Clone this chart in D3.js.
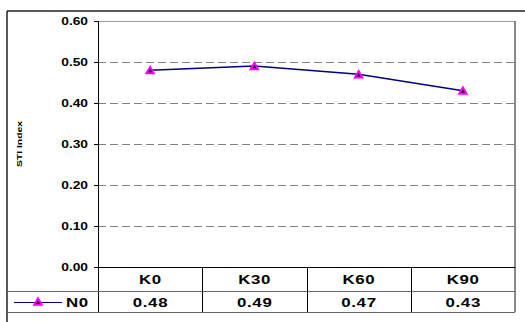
<!DOCTYPE html>
<html><head><meta charset="utf-8">
<script src="https://cdn.jsdelivr.net/npm/d3@7"></script>
<style>html,body{margin:0;padding:0;background:#fff;overflow:hidden}</style>
</head><body>
<svg id="c" width="525" height="322"></svg>
<script>
const categories = ["K0","K30","K60","K90"];
const seriesName = "N0";
const values = [0.48, 0.49, 0.47, 0.43];
const yTicks = [0.0,0.1,0.2,0.3,0.4,0.5,0.6];
const yTitle = "STI Index";

const svg = d3.select("#c");
const L = 98, R = 515, T = 21, B = 267, row1 = 291, row2 = 312, frameL = 7, frameT = 11;
const font = "'Liberation Sans', Arial, sans-serif";

// outer frame
svg.append("line").attr("x1",frameL).attr("x2",frameL).attr("y1",frameT).attr("y2",330).attr("stroke","#222").attr("stroke-width",1.5);
svg.append("line").attr("x1",frameL).attr("x2",530).attr("y1",frameT).attr("y2",frameT).attr("stroke","#222").attr("stroke-width",1.5);

const x = d3.scaleBand().domain(categories).range([L,R]).padding(0);
const y = d3.scaleLinear().domain([0,0.6]).range([B,T]);

// gridlines
svg.append("g").selectAll("line").data(yTicks.filter(t=>t>0 && t<0.6)).join("line")
  .attr("x1",L).attr("x2",R).attr("y1",d=>Math.round(y(d))+0.5).attr("y2",d=>Math.round(y(d))+0.5)
  .attr("stroke","#808080").attr("stroke-width",1.2).attr("stroke-dasharray","8,4");

// plot top border & right border
svg.append("line").attr("x1",L).attr("x2",R).attr("y1",T+0.5).attr("y2",T+0.5).attr("stroke","#999").attr("stroke-width",1);
svg.append("line").attr("x1",R).attr("x2",R).attr("y1",T).attr("y2",row2).attr("stroke","#888").attr("stroke-width",2);

// y axis (ticks via axis, labels stretched)
const yAxis = d3.axisLeft(y).tickValues(yTicks).tickFormat("").tickSize(4);
const gy = svg.append("g").attr("transform",`translate(${L},0)`).call(yAxis);
gy.select(".domain").remove();
gy.selectAll(".tick line").attr("stroke","#000");
gy.selectAll(".tick").append("text")
  .attr("transform","translate(-10,0) scale(1.25,1)")
  .attr("text-anchor","end").attr("dy","0.36em")
  .attr("font-family",font).attr("font-weight","bold").attr("font-size",11).attr("fill","#000")
  .text(d=>d3.format(".2f")(d));
svg.append("line").attr("x1",L+0.5).attr("x2",L+0.5).attr("y1",T).attr("y2",row2).attr("stroke","#000").attr("stroke-width",1);

// y title
svg.append("text").attr("transform",`translate(22,${(T+B)/2}) rotate(-90) scale(1.3,1)`).attr("text-anchor","middle")
  .attr("font-family",font).attr("font-weight","bold").attr("font-size",8).attr("fill","#000").text(yTitle);

// table
svg.append("line").attr("x1",L).attr("x2",R).attr("y1",B+0.5).attr("y2",B+0.5).attr("stroke","#000").attr("stroke-width",1.2);
svg.append("line").attr("x1",frameL).attr("x2",R).attr("y1",row1+0.5).attr("y2",row1+0.5).attr("stroke","#666").attr("stroke-width",1);
svg.append("line").attr("x1",frameL).attr("x2",R).attr("y1",row2+0.5).attr("y2",row2+0.5).attr("stroke","#666").attr("stroke-width",1);
svg.append("g").selectAll("line").data(categories.slice(1)).join("line")
  .attr("x1",d=>Math.round(x(d))+0.5).attr("x2",d=>Math.round(x(d))+0.5).attr("y1",B).attr("y2",row2)
  .attr("stroke","#000").attr("stroke-width",1);

const sx = 1.3, ls = 0.5;
svg.append("g").selectAll("text").data(categories).join("text")
  .attr("transform",d=>`translate(${x(d)+x.bandwidth()/2 + ls*sx/2},${(B+row1)/2+5}) scale(${sx},1)`).attr("text-anchor","middle")
  .attr("font-family",font).attr("font-weight","bold").attr("font-size",13).attr("letter-spacing",ls).attr("fill","#000").text(d=>d);
svg.append("g").selectAll("text").data(values).join("text")
  .attr("transform",(d,i)=>`translate(${x(categories[i])+x.bandwidth()/2 + ls*sx/2},${(row1+row2)/2+5}) scale(${sx},1)`).attr("text-anchor","middle")
  .attr("font-family",font).attr("font-weight","bold").attr("font-size",13).attr("letter-spacing",ls).attr("fill","#000").text(d=>d.toFixed(2));

const tri = d3.symbol().type(d3.symbolTriangle).size(24);

// legend
const ly = (row1+row2)/2 + 1;
svg.append("line").attr("x1",14).attr("x2",62).attr("y1",ly).attr("y2",ly).attr("stroke","#000080").attr("stroke-width",1.2);
svg.append("path").attr("d",tri).attr("transform",`translate(38,${ly})`).attr("fill","#000").attr("stroke","#ff00ff").attr("stroke-width",2);
svg.append("text").attr("transform",`translate(66,${(row1+row2)/2+5}) scale(${sx},1)`).attr("font-family",font).attr("font-weight","bold").attr("font-size",13).attr("letter-spacing",ls).attr("fill","#000").text(seriesName);

// series line
const line = d3.line().x((d,i)=>x(categories[i])+x.bandwidth()/2).y(d=>y(d));
svg.append("path").datum(values).attr("d",line).attr("fill","none").attr("stroke","#000080").attr("stroke-width",1.5);
svg.append("g").selectAll("path").data(values).join("path")
  .attr("d",tri).attr("transform",(d,i)=>`translate(${x(categories[i])+x.bandwidth()/2},${y(d)+1})`)
  .attr("fill","#000").attr("stroke","#ff00ff").attr("stroke-width",2);
</script>
</body></html>
